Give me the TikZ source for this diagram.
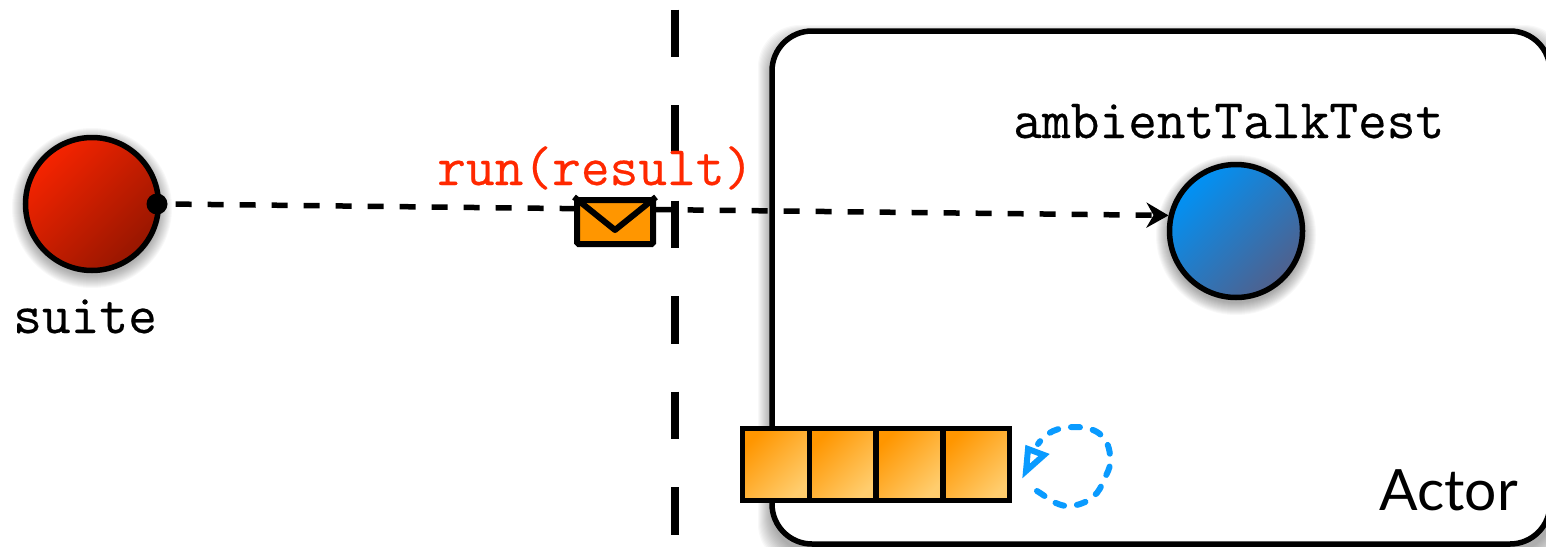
\documentclass[tikz,border=0pt]{standalone}
\usepackage{fontspec}
\usetikzlibrary{arrows.meta,calc}
\newfontfamily\actorfont{Lato}
\newfontfamily\typefont{Latin Modern Mono}[FakeBold=0.35]
\definecolor{redA}{RGB}{246,36,0}
\definecolor{redB}{RGB}{150,22,0}
\definecolor{blueA}{RGB}{0,146,246}
\definecolor{blueB}{RGB}{80,96,140}
\definecolor{orA}{RGB}{255,150,0}
\definecolor{orB}{RGB}{255,205,110}
\definecolor{msgred}{RGB}{255,40,0}
\definecolor{loopblue}{RGB}{10,155,255}
\tikzset{
  x=1pt,y=-1pt,
  mono/.style={font=\typefont\fontsize{55.8}{56}\selectfont,inner sep=0pt,anchor=base west},
  ball/.style={circle,draw=black,line width=5.5pt,minimum size=133pt,inner sep=0pt},
  cell/.style={draw=black,line width=5.5pt,minimum width=66.8pt,minimum height=72pt,inner sep=0pt,
     left color=orA,right color=orB,shading angle=45},
  dashline/.style={line width=5.5pt,dash pattern=on 16pt off 16pt,dash phase=24pt},
  shadowring/.style={fill=black,fill opacity=0.028,draw=none},
}
\begin{document}
\begin{tikzpicture}
\useasboundingbox (0,0) rectangle (1546,546);
% actor with shadow
\foreach \g in {1,...,14}{
  \fill[shadowring,rounded corners=42pt] (772-\g,31+8-\g) rectangle (1552+\g,544+8+\g);
}
\node[draw=black,fill=white,line width=5.5pt,rounded corners=40pt,minimum width=778pt,minimum height=513pt,inner sep=0pt] (actor) at (1161,287.5) {};
\node[font=\actorfont\fontsize{57}{57}\selectfont,inner sep=0pt,anchor=base east] (actorlabel) at (1518,510) {Actor};
% boundary
\coordinate (bt) at (675,9.5);
\coordinate (bb) at (675,537);
\draw[line width=8pt,dash pattern=on 47.5pt off 48pt] (bt) -- (bb);
% ball shadows
\foreach \g in {1,...,13}{
  \fill[shadowring] (92,208) circle[radius=67+\g];
  \fill[shadowring] (1236,235) circle[radius=67+\g];
}
\node[ball,left color=redA,right color=redB,shading angle=45] (suite) at (92,204) {};
\node[ball,left color=blueA,right color=blueB,shading angle=45] (test) at (1236,231) {};
\node[circle,fill=black,minimum size=21pt,inner sep=0pt] (dot) at (157,204) {};
% labels
\node[mono] (suitelabel) at (13,333) {suite};
\node[mono] (testlabel) at (1013,138) {ambientTalkTest};
\node[mono,text=msgred] (msglabel) at (437,185) {run(result)};
% message
\draw[dashline,-{Stealth[length=22pt,width=25pt,inset=7pt]}] (dot.east) -- (test.167);
\node[draw=black,fill=orA,line width=6pt,rounded corners=1.5pt,minimum width=76pt,minimum height=44pt,inner sep=0pt] (envelope) at (615,222) {};
\coordinate (flap) at (615,230);
\draw[line width=6pt,line join=round] (envelope.north west) -- (flap) -- (envelope.north east);
% queue
\node[cell] (q1) at (775.9,464.5) {};
\node[cell] (q2) at (842.7,464.5) {};
\node[cell] (q3) at (909.5,464.5) {};
\node[cell] (q4) at (976.3,464.5) {};
% loop
\coordinate (l0) at (1037,491);
\coordinate (l1) at (1068,506);
\coordinate (l2) at (1102,484);
\coordinate (l3) at (1110,455);
\coordinate (l4) at (1075,427);
\coordinate (l5) at (1038,444);
\draw[loopblue,line width=6pt,line cap=round,dash pattern=on 9pt off 13pt]
  (l0) .. controls (1047,497) and (1056,506) .. (l1)
       .. controls (1084,506) and (1098,496) .. (l2)
       .. controls (1106,474) and (1112,468) .. (l3)
       .. controls (1108,435) and (1095,427) .. (l4)
       .. controls (1058,427) and (1046,432) .. (l5);
\coordinate (t1) at (1028,449);
\coordinate (t2) at (1044,455);
\coordinate (t3) at (1026,471);
\draw[loopblue,line width=6pt,fill=white,miter limit=10] (t1) -- (t2) -- (t3) -- cycle;
\end{tikzpicture}
\end{document}
